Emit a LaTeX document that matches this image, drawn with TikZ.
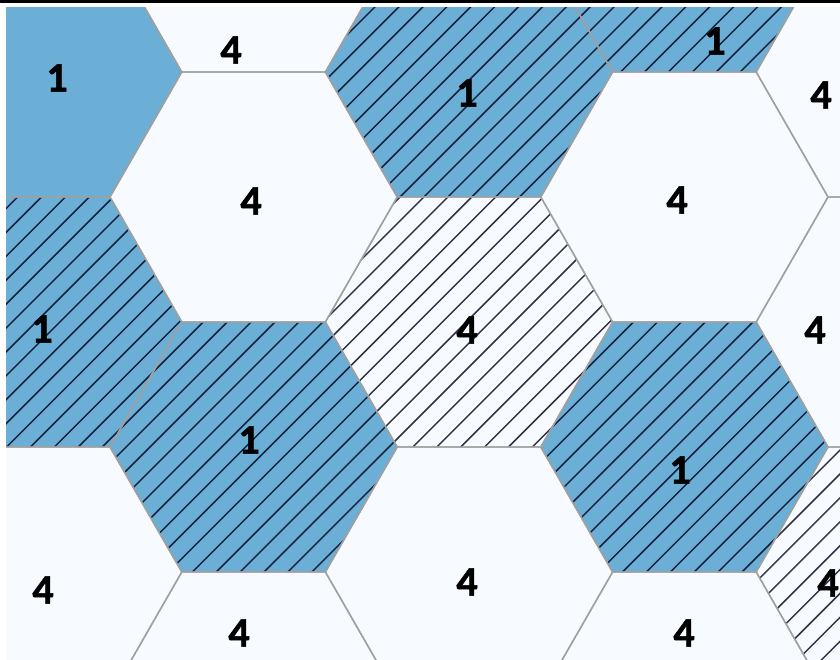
\documentclass[tikz,border=0pt]{standalone}
\usepackage{fontspec}
\setmainfont{Carlito}[BoldFont={Carlito Bold},BoldFeatures={FakeBold=1.3}]
\definecolor{hexblue}{RGB}{107,174,214}
\definecolor{hexwhite}{RGB}{247,251,255}
\definecolor{hexedge}{RGB}{160,160,160}
\newcommand{\myhex}[2]{(#1-143.6,#2) -- (#1-71.8,#2-125) -- (#1+71.8,#2-125) -- (#1+143.6,#2) -- (#1+71.8,#2+125) -- (#1-71.8,#2+125) -- cycle}
\newcommand{\hatchall}{\foreach \k in {0,...,64}{\draw[hatchline] ({23.9*\k-0.5+100},-100) -- ({23.9*\k-0.5-900},900);}}
\newcommand{\hatchhex}[2]{\begin{scope}\clip \myhex{#1}{#2};\hatchall\end{scope}}
\begin{document}
\begin{tikzpicture}[x=1pt,y=-1pt,
  bluehex/.style={fill=hexblue},
  whitehex/.style={fill=hexwhite},
  hexline/.style={draw=hexedge,line width=1.4pt,line join=round},
  hatchline/.style={draw=black!90!blue,draw opacity=0.8,line width=1.5pt},
  lab/.style={font=\fontsize{42}{42}\selectfont\bfseries,text=black,inner sep=0pt}]
\useasboundingbox (0,0) rectangle (840,659);
\fill[white] (0,0) rectangle (840,659);
\begin{scope}
\clip (6,7) rectangle (840,659);
% fills
\path[bluehex]  \myhex{38.2}{72};
\path[bluehex]  \myhex{38.2}{322};
\path[whitehex] \myhex{38.2}{572};
\path[whitehex] \myhex{253.6}{-53};
\path[whitehex] \myhex{253.6}{197};
\path[bluehex]  \myhex{253.6}{447};
\path[whitehex] \myhex{253.6}{697};
\path[bluehex]  \myhex{469}{72};
\path[whitehex] \myhex{469}{322};
\path[whitehex] \myhex{469}{572};
\path[bluehex]  \myhex{684.4}{-53};
\path[whitehex] \myhex{684.4}{197};
\path[bluehex]  \myhex{684.4}{447};
\path[whitehex] \myhex{684.4}{697};
\path[whitehex] \myhex{899.8}{72};
\path[whitehex] \myhex{899.8}{322};
\path[whitehex] \myhex{899.8}{572};
% hatching
\hatchhex{38.2}{322}
\hatchhex{253.6}{447}
\hatchhex{469}{72}
\hatchhex{469}{322}
\hatchhex{684.4}{-53}
\hatchhex{684.4}{447}
\hatchhex{899.8}{572}
% outlines
\foreach \cx/\cy in {38.2/72,38.2/322,38.2/572,253.6/-53,253.6/197,253.6/447,253.6/697,469/72,469/322,469/572,684.4/-53,684.4/197,684.4/447,684.4/697,899.8/72,899.8/322,899.8/572}
  {\draw[hexline] \myhex{\cx}{\cy};}
% labels
\node[lab] (a1) at (57,78)   {1};
\node[lab] (a2) at (42,329)  {1};
\node[lab] (a3) at (43,590)  {4};
\node[lab] (b0) at (231,50)  {4};
\node[lab] (b1) at (251,201) {4};
\node[lab] (b2) at (249,440) {1};
\node[lab] (b3) at (239,633) {4};
\node[lab] (c1) at (467,93)  {1};
\node[lab] (c2) at (467,330) {4};
\node[lab] (c3) at (467,582) {4};
\node[lab] (d0) at (715,41)  {1};
\node[lab] (d1) at (677,200) {4};
\node[lab] (d2) at (680,470) {1};
\node[lab] (d3) at (684,633) {4};
\node[lab] (e1) at (821,95)  {4};
\node[lab] (e2) at (815,330) {4};
\node[lab] (e3) at (828,583) {4};
\end{scope}
\fill[black] (0,0) rectangle (840,2.5);
\end{tikzpicture}
\end{document}
